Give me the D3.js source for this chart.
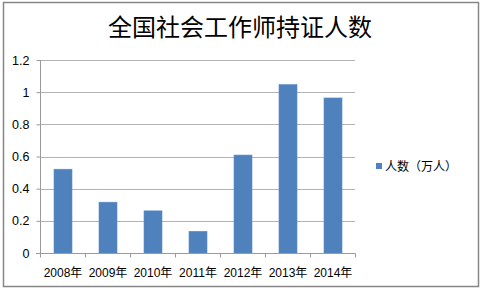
<!DOCTYPE html>
<meta charset="utf-8">
<head>
<style>
body { margin: 0; background: #fff; }
text { font-family: "Liberation Sans", "Noto Sans CJK SC", sans-serif; fill: #000; }
</style>
</head>
<body>
<div id="chart"></div>
<script src="https://d3js.org/d3.v7.min.js"></script>
<script>
// data
const years = ["2008年", "2009年", "2010年", "2011年", "2012年", "2013年", "2014年"];
const values = [0.521, 0.316, 0.262, 0.135, 0.609, 1.047, 0.964];
const yTicks = [0, 0.2, 0.4, 0.6, 0.8, 1, 1.2];
const seriesName = "人数（万人）";
const title = "全国社会工作师持证人数";

const width = 481, height = 291;

const svg = d3.select("#chart").append("svg")
  .attr("width", width)
  .attr("height", height);

// outer chart frame
svg.append("rect")
  .attr("x", 3.5).attr("y", 2.5)
  .attr("width", 475).attr("height", 284)
  .attr("fill", "#fff")
  .attr("stroke", "#868686")
  .attr("stroke-width", 1.5);

svg.append("text")
  .attr("x", 240).attr("y", 36)
  .attr("text-anchor", "middle")
  .style("font-family", "'Noto Sans CJK SC', sans-serif")
  .style("font-size", "24px")
  .text(title);

const x = d3.scaleBand()
  .domain(years)
  .range([40.5, 355.5])
  .paddingInner(0.6)
  .paddingOuter(0.3);

const y = d3.scaleLinear()
  .domain([0, 1.2])
  .range([253, 60]);

// gridlines
svg.append("g")
  .selectAll("line")
  .data(yTicks.filter(d => d > 0))
  .join("line")
  .attr("x1", 40.5).attr("x2", 355)
  .attr("y1", d => Math.round(y(d)) + 0.5)
  .attr("y2", d => Math.round(y(d)) + 0.5)
  .attr("stroke", "#b3b3b3");

// y axis
const yAxis = svg.append("g")
  .attr("transform", "translate(40.5,0)")
  .call(d3.axisLeft(y).tickValues(yTicks).tickSize(4).tickPadding(7).tickFormat(d3.format("")));
yAxis.select(".domain").attr("stroke", "#9a9a9a").attr("d", "M0,60V253");
yAxis.selectAll(".tick line").attr("stroke", "#9a9a9a");
yAxis.selectAll(".tick text").style("font-size", "12.5px").attr("fill", "#000");

// bars
svg.append("g")
  .selectAll("rect")
  .data(values)
  .join("rect")
  .attr("x", (d, i) => x(years[i]))
  .attr("y", d => y(d))
  .attr("width", x.bandwidth())
  .attr("height", d => y(0) - y(d))
  .attr("fill", "#4f81bd")
  .attr("stroke", "#5b8cc6")
  .attr("stroke-width", 0.6);

// x axis
const xAxis = svg.append("g")
  .attr("transform", "translate(0,253.5)");
xAxis.append("line")
  .attr("x1", 36).attr("x2", 355.5)
  .attr("stroke", "#9a9a9a");
const step = x.step();
xAxis.selectAll(".xt")
  .data(d3.range(years.length + 1))
  .join("line")
  .attr("class", "xt")
  .attr("x1", i => 40.5 + i * step)
  .attr("x2", i => 40.5 + i * step)
  .attr("y1", 0).attr("y2", 4)
  .attr("stroke", "#9a9a9a");
xAxis.selectAll("text")
  .data(years)
  .join("text")
  .attr("x", d => x(d) + x.bandwidth() / 2)
  .attr("y", 23)
  .attr("text-anchor", "middle")
  .style("font-size", "12px")
  .text(d => d);

// legend
const legend = svg.append("g").attr("transform", "translate(376,163)");
legend.append("rect")
  .attr("width", 6).attr("height", 6)
  .attr("fill", "#4f81bd");
legend.append("text")
  .attr("x", 9).attr("y", 7.5)
  .style("font-size", "12px")
  .style("font-family", "'Noto Sans CJK SC', sans-serif")
  .text(seriesName);
</script>
</body>
</html>
